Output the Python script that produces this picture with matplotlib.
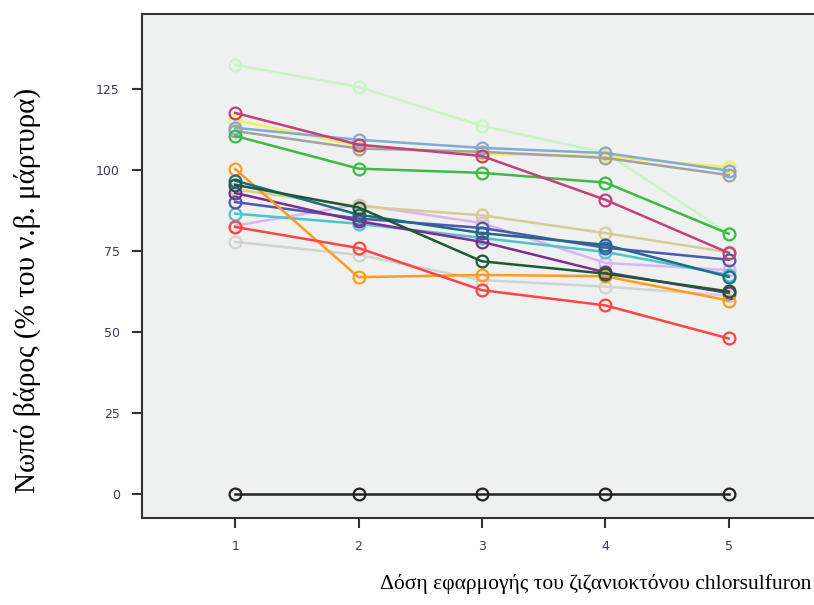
import matplotlib.pyplot as plt

doses = [1, 2, 3, 4, 5]

# fresh weight, % of control, one list per line
pale_green = [132.4, 125.6, 113.6, 105.3, 80.4]
magenta = [117.6, 107.8, 104.3, 90.8, 74.4]
yellow = [115.4, 107.4, 105.0, 104.2, 100.8]
light_blue = [113.0, 109.3, 106.8, 105.2, 99.8]
grey = [112.0, 106.6, 105.6, 103.7, 98.4]
green = [110.5, 100.4, 99.1, 96.1, 80.3]
orange = [100.3, 66.9, 67.6, 67.2, 59.7]
teal = [96.7, 86.2, 80.5, 76.9, 67.0]
dark_green = [95.4, 88.4, 71.8, 68.0, 62.5]
tan = [94.0, 88.8, 86.0, 80.5, 74.6]
purple = [92.9, 84.2, 77.8, 68.4, 62.0]
blue = [90.1, 85.0, 82.1, 76.0, 72.3]
cyan = [86.5, 83.4, 79.0, 74.7, 67.6]
lilac = [82.8, 89.3, 83.6, 71.3, 69.1]
red = [82.4, 75.9, 62.9, 58.2, 48.0]
light_grey = [77.8, 73.8, 66.0, 64.0, 61.2]
control = [0, 0, 0, 0, 0]

series = [
    (light_grey, '#d2d2d2'),
    (pale_green, '#c6f7bf'),
    (lilac, '#dcb4f4'),
    (tan, '#d6cb96'),
    (yellow, '#f4ee5a'),
    (light_blue, '#80aad8'),
    (grey, '#a2a2a2'),
    (cyan, '#4cc4c8'),
    (blue, '#4a58b2'),
    (purple, '#7e2e8e'),
    (orange, '#ff9c1e'),
    (red, '#ff4444'),
    (green, '#3cba46'),
    (magenta, '#c2407c'),
    (teal, '#22698a'),
    (dark_green, '#1c5a36'),
    (control, '#222222'),
]

fig = plt.figure(figsize=(8.14, 6.05), dpi=100)
ax = fig.add_axes([0.1744, 0.1438, 0.83, 0.833])
ax.set_facecolor('#eff0f0')

for vals, col in series:
    ax.plot(doses, vals, color=col, lw=1.8, marker='o', ms=8.5,
            mfc='none', mec=col, mew=1.6)

ax.set_xlim(0.245, 5.72)
ax.set_ylim(-7.4, 148.1)
ax.set_xticks(doses)
ax.set_yticks([0, 25, 50, 75, 100, 125])

for side in ['left', 'bottom', 'top']:
    ax.spines[side].set_color('#333333')
    ax.spines[side].set_linewidth(1.5)
ax.spines['right'].set_visible(False)

ax.tick_params(direction='out', length=7, width=1.5, color='#333333',
               labelsize=9, labelcolor='#3a3a60', pad=9)

serif = ['Liberation Serif', 'DejaVu Serif']
fig.text(0.034, 0.52, 'Νωπό βάρος (% του ν.β. μάρτυρα)', fontsize=21,
         family=serif, rotation=90, ha='center', va='center')
fig.text(0.997, 0.018, 'Δόση εφαρμογής του ζιζανιοκτόνου chlorsulfuron',
         fontsize=15.5, family=serif, ha='right', va='bottom')

fig.savefig('out.png', dpi=100)
